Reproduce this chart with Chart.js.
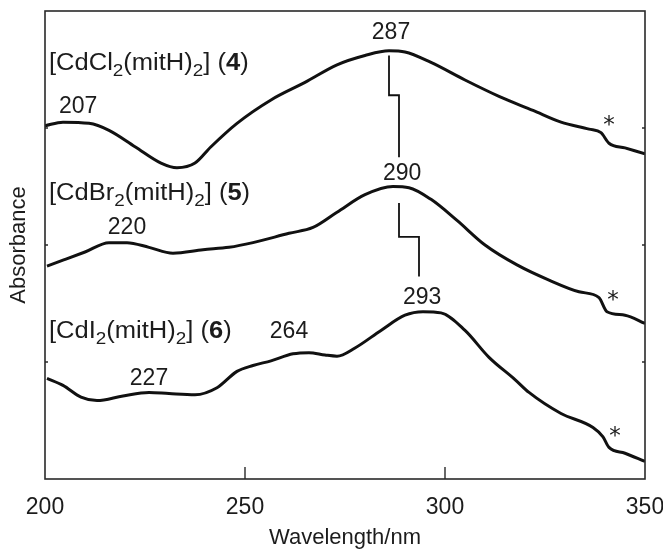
<!DOCTYPE html>
<html>
<head>
<meta charset="utf-8">
<script src="https://cdn.jsdelivr.net/npm/chart.js@4.4.0/dist/chart.umd.min.js"></script>
<style>
  html, body { margin: 0; padding: 0; background: #fff; }
  #c { display: block; }
</style>
</head>
<body>
<canvas id="c" width="663" height="549"></canvas>
<script>
// spectra (wavelength in nm, absorbance in arbitrary offset units)
const clWave = [200, 204.5, 211, 216, 222.5, 229, 233, 237.5, 241.5, 248, 256.5, 265, 273, 280, 286, 290, 296.5, 305, 313.5, 322, 329, 336, 339, 341, 345, 350]
const clAbs = [3.02, 3.05, 3.04, 2.98, 2.84, 2.70, 2.66, 2.70, 2.84, 3.04, 3.24, 3.39, 3.54, 3.62, 3.66, 3.65, 3.56, 3.41, 3.27, 3.15, 3.05, 2.99, 2.96, 2.87, 2.83, 2.78]

const brWave = [200.5, 204.5, 210, 216, 220.5, 226, 232, 239.5, 246, 252, 261, 267, 273, 280, 287, 291, 296.5, 303, 310, 318, 326, 333.5, 338.5, 340.5, 345, 350]
const brAbs = [1.82, 1.87, 1.94, 2.02, 2.02, 1.98, 1.93, 1.96, 1.98, 2.02, 2.10, 2.15, 2.28, 2.43, 2.50, 2.49, 2.39, 2.21, 2.00, 1.83, 1.70, 1.60, 1.55, 1.43, 1.40, 1.33]

const iWave = [200.5, 204.5, 209, 213, 219.5, 226, 231, 237.5, 243, 248, 252, 256.5, 262, 266, 270, 273, 277.5, 284, 290, 294.5, 299, 305, 311, 317.5, 321, 329, 337, 339.5, 341, 345, 350]
const iAbs = [0.86, 0.80, 0.70, 0.67, 0.71, 0.74, 0.73, 0.72, 0.78, 0.92, 0.97, 1.01, 1.07, 1.08, 1.06, 1.05, 1.12, 1.27, 1.40, 1.43, 1.42, 1.27, 1.04, 0.85, 0.74, 0.56, 0.44, 0.36, 0.27, 0.22, 0.15]

// step-shaped guide lines linking the band maxima
const link1Wave = [286, 286, 288.5, 288.5]
const link1Abs = [3.62, 3.28, 3.28, 2.75]
const link2Wave = [288.5, 288.5, 293.5, 293.5]
const link2Abs = [2.36, 2.07, 2.07, 1.73]

const xTicks = [200, 250, 300, 350]

const toPts = (xs, ys) => xs.map((x, i) => ({ x: x, y: ys[i] }))

// text drawn on the plot, anchored in data units
const notes = [
  { x: 201, y: 3.56, wide: true, parts: [['[CdCl'], ['2', 'sub'], ['(mitH)'], ['2', 'sub'], ['] ('], ['4', 'b'], [')']] },
  { x: 201, y: 2.45, wide: true, parts: [['[CdBr'], ['2', 'sub'], ['(mitH)'], ['2', 'sub'], ['] ('], ['5', 'b'], [')']] },
  { x: 201, y: 1.27, wide: true, parts: [['[CdI'], ['2', 'sub'], ['(mitH)'], ['2', 'sub'], ['] ('], ['6', 'b'], [')']] },
  { x: 286.5, y: 3.83, parts: [['287']] },
  { x: 208.3, y: 3.2, parts: [['207']] },
  { x: 289.3, y: 2.62, parts: [['290']] },
  { x: 220.5, y: 2.16, parts: [['220']] },
  { x: 294.3, y: 1.56, parts: [['293']] },
  { x: 261, y: 1.27, parts: [['264']] },
  { x: 226, y: 0.87, parts: [['227']] },
  { x: 341, y: 3.03, parts: [['*', 'ast']] },
  { x: 342, y: 1.54, parts: [['*', 'ast']] },
  { x: 342.5, y: 0.38, parts: [['*', 'ast']] },
]

const FONT = '"Liberation Sans", Arial, sans-serif'
const INK = '#1c1c1c'

function fontFor(kind) {
  if (kind === 'sub') return '17px ' + FONT
  if (kind === 'b') return 'bold 23px ' + FONT
  if (kind === 'ast') return '23px "DejaVu Sans", ' + FONT
  return '23px ' + FONT
}

const framePlugin = {
  id: 'frame',
  afterDatasetsDraw(chart) {
    const ctx = chart.ctx
    const a = chart.chartArea
    const xs = chart.scales.x
    const ys = chart.scales.y
    ctx.save()
    ctx.strokeStyle = '#2a2a2a'
    ctx.lineWidth = 1.6
    ctx.strokeRect(a.left, a.top, a.right - a.left, a.bottom - a.top)

    ctx.lineWidth = 1.4
    ctx.beginPath()
    for (const t of xTicks.slice(1, -1)) {
      const px = xs.getPixelForValue(t)
      ctx.moveTo(px, a.bottom)
      ctx.lineTo(px, a.bottom - 12)
    }
    for (const v of [1, 2, 3]) {
      const py = ys.getPixelForValue(v)
      ctx.moveTo(a.left, py)
      ctx.lineTo(a.left + 3, py)
      ctx.moveTo(a.right, py)
      ctx.lineTo(a.right - 3, py)
    }
    ctx.stroke()

    ctx.fillStyle = INK
    ctx.textAlign = 'left'
    ctx.textBaseline = 'alphabetic'
    for (const n of notes) {
      let w = 0
      for (const p of n.parts) {
        ctx.font = fontFor(p[1])
        w += ctx.measureText(p[0]).width
      }
      const sx = n.wide ? 1.11 : 1
      let px = xs.getPixelForValue(n.x)
      const py = ys.getPixelForValue(n.y)
      if (!n.wide) px -= w / 2
      ctx.save()
      ctx.translate(px, py)
      ctx.scale(sx, 1)
      let cx = 0
      for (const p of n.parts) {
        ctx.font = fontFor(p[1])
        const dy = p[1] === 'sub' ? 14 : 8
        ctx.fillText(p[0], cx, dy)
        cx += ctx.measureText(p[0]).width
      }
      ctx.restore()
    }
    ctx.restore()
  }
}

const curve = (pts) => ({
  data: pts,
  showLine: true,
  borderColor: '#111',
  borderWidth: 3,
  pointRadius: 0,
  cubicInterpolationMode: 'monotone',
  fill: false,
})

const link = (pts) => ({
  data: pts,
  showLine: true,
  borderColor: '#111',
  borderWidth: 1.8,
  pointRadius: 0,
  tension: 0,
  fill: false,
})

new Chart(document.getElementById('c'), {
  type: 'scatter',
  data: {
    datasets: [
      curve(toPts(clWave, clAbs)),
      curve(toPts(brWave, brAbs)),
      curve(toPts(iWave, iAbs)),
      link(toPts(link1Wave, link1Abs)),
      link(toPts(link2Wave, link2Abs)),
    ],
  },
  options: {
    responsive: false,
    animation: false,
    devicePixelRatio: 1,
    layout: { padding: { top: 11, right: 18, left: 0, bottom: 0 } },
    plugins: { legend: { display: false }, tooltip: { enabled: false } },
    scales: {
      x: {
        type: 'linear',
        min: 200,
        max: 350,
        afterBuildTicks: (s) => { s.ticks = xTicks.map((v) => ({ value: v })) },
        afterFit: (s) => { s.height = 70; s.paddingLeft = 0; s.paddingRight = 0 },
        ticks: { color: INK, padding: 7, maxRotation: 0, font: { family: FONT, size: 23 } },
        grid: { display: false },
        border: { display: false },
        title: {
          display: true,
          text: 'Wavelength/nm',
          color: INK,
          padding: 0,
          font: { family: FONT, size: 22, lineHeight: 1 },
        },
      },
      y: {
        min: 0,
        max: 4,
        afterFit: (s) => { s.width = 45 },
        ticks: { display: false },
        grid: { display: false },
        border: { display: false },
        title: {
          display: true,
          text: 'Absorbance',
          color: INK,
          padding: { top: 8, bottom: 0 },
          font: { family: FONT, size: 22, lineHeight: 1 },
        },
      },
    },
  },
  plugins: [framePlugin],
})
</script>
</body>
</html>
